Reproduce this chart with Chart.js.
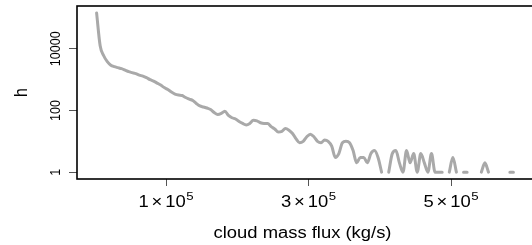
<!DOCTYPE html>
<html>
<head>
<meta charset="utf-8">
<script src="https://cdn.jsdelivr.net/npm/chart.js@4"></script>
<style>
  html, body { margin: 0; padding: 0; background: #fff; overflow: hidden; }
</style>
</head>
<body>
<canvas id="histChart" width="545" height="245"></canvas>
<script>
// bin centres of the cloud mass flux histogram (kg/s)
const massFlux = [
  2500, 7500, 12500, 17500, 22500, 27500, 32500, 37500, 42500, 47500,
  52500, 57500, 62500, 67500, 72500, 77500, 82500, 87500, 92500, 97500,
  102500, 107500, 112500, 117500, 122500, 127500, 132500, 137500, 142500, 147500,
  152500, 157500, 162500, 167500, 172500, 177500, 182500, 187500, 192500, 197500,
  202500, 207500, 212500, 217500, 222500, 227500, 232500, 237500, 242500, 247500,
  252500, 257500, 262500, 267500, 272500, 277500, 282500, 287500, 292500, 297500,
  302500, 307500, 312500, 317500, 322500, 327500, 332500, 337500, 342500, 347500,
  352500, 357500, 362500, 367500, 372500, 377500, 382500, 387500, 392500, 397500,
  402500, 407500, 412500, 417500, 422500, 427500, 432500, 437500, 442500, 447500,
  452500, 457500, 462500, 467500, 472500, 477500, 482500, 487500, 492500, 497500,
  502500, 507500, 512500, 517500, 522500, 527500, 532500, 537500, 542500, 547500,
  552500, 557500, 562500, 567500, 572500, 577500, 582500, 587500
];

// counts per bin (null = empty bin, not drawn on the log axis)
const counts = [
  145000, 12500, 5940, 3810, 2940, 2630, 2440, 2260, 2020, 1810,
  1680, 1560, 1400, 1300, 1160, 1000, 895, 771, 665, 552,
  476, 395, 341, 316, 305, 263, 235, 210, 168, 140,
  130, 120, 108, 86, 74, 80, 95, 69, 58, 53,
  44, 38, 34, 38, 48, 46, 40, 38, 38, 30,
  25, 20, 21, 26, 23, 18, 12, 9, 10, 14,
  17, 14, 10, 9, 11, 10, 7, 3, 4, 9,
  10, 9, 5, 2, 3, 3, 2, 4, 5, 3,
  1, null, 1, 4, 5, 2, 1, 5, 2, 4,
  1, 4, 2, 1, 4, 1, 1, 1, null, 1,
  3, 1, null, 1, 1, null, null, null, 1, 2,
  1, null, null, null, null, null, 1, 1
];

const xTicks = [100000, 300000, 500000];
const xTickMantissa = ['1', '3', '5'];
const xTickExponent = ['5', '5', '5'];
const yTicks = [1, 100, 10000];
const yTickLabels = ['1', '100', '10000'];
const xTitle = 'cloud mass flux (kg/s)';
const yTitle = 'h';

const FONT = '"Liberation Sans", Arial, sans-serif';
const STRETCH = 1.15;

const rAxes = {
  id: 'rAxes',
  afterDraw(chart) {
    const { ctx, chartArea: a, scales } = chart;
    ctx.save();
    // box
    ctx.strokeStyle = '#000';
    ctx.lineWidth = 1.6;
    ctx.strokeRect(a.left, a.top, a.right - a.left, a.bottom - a.top);

    ctx.fillStyle = '#000';
    // y tick labels, rotated
    ctx.font = '12.5px ' + FONT;
    ctx.textAlign = 'center';
    ctx.textBaseline = 'alphabetic';
    yTicks.forEach((v, i) => {
      const y = scales.y.getPixelForValue(v);
      ctx.save();
      ctx.translate(59.5, y);
      ctx.scale(STRETCH, 1);
      ctx.rotate(-Math.PI / 2);
      ctx.fillText(yTickLabels[i], 0, 0);
      ctx.restore();
    });

    // y title
    ctx.save();
    ctx.font = '16px ' + FONT;
    ctx.translate(26.5, (a.top + a.bottom) / 2);
    ctx.scale(STRETCH, 1);
    ctx.rotate(-Math.PI / 2);
    ctx.fillText(yTitle, 0, 0);
    ctx.restore();

    // x tick labels  m x 10^e
    xTicks.forEach((v, i) => {
      const x = scales.x.getPixelForValue(v);
      ctx.save();
      ctx.translate(x, 206.5);
      ctx.scale(STRETCH, 1);
      ctx.textAlign = 'left';
      ctx.font = '16px ' + FONT;
      const sp = 2.5;
      const wm = ctx.measureText(xTickMantissa[i]).width;
      const wx = ctx.measureText('\u00d7').width;
      const wt = ctx.measureText('10').width;
      ctx.font = '11.5px ' + FONT;
      const we = ctx.measureText(xTickExponent[i]).width;
      let cx = -(wm + sp + wx + sp + wt + 0.5 + we) / 2;
      ctx.font = '16px ' + FONT;
      ctx.fillText(xTickMantissa[i], cx, 0); cx += wm + sp;
      ctx.fillText('\u00d7', cx, 0); cx += wx + sp;
      ctx.fillText('10', cx, 0); cx += wt + 0.5;
      ctx.font = '11.5px ' + FONT;
      ctx.fillText(xTickExponent[i], cx, -6.5);
      ctx.restore();
    });

    // x title
    ctx.save();
    ctx.font = '16px ' + FONT;
    ctx.textAlign = 'center';
    ctx.translate(302.5, 238);
    ctx.scale(STRETCH, 1);
    ctx.fillText(xTitle, 0, 0);
    ctx.restore();

    ctx.restore();
  }
};

new Chart(document.getElementById('histChart').getContext('2d'), {
  type: 'line',
  data: {
    datasets: [{
      data: massFlux.map((x, i) => ({ x: x, y: counts[i] })),
      borderColor: '#a9a9a9',
      borderWidth: 3,
      borderCapStyle: 'round',
      borderJoinStyle: 'round',
      pointRadius: 0,
      cubicInterpolationMode: 'monotone',
      spanGaps: false,
      fill: false
    }]
  },
  options: {
    responsive: false,
    animation: false,
    layout: { padding: { top: 6, right: 7, left: 0, bottom: 0 } },
    plugins: { legend: { display: false }, tooltip: { enabled: false } },
    scales: {
      x: {
        type: 'linear',
        min: -25000,
        max: 622000,
        afterBuildTicks: scale => { scale.ticks = xTicks.map(v => ({ value: v })); },
        afterFit: scale => { scale.height = 66; },
        ticks: { display: false, autoSkip: false },
        grid: { display: true, drawOnChartArea: false, drawTicks: true, tickLength: 7, color: '#555', lineWidth: 1 },
        border: { display: false }
      },
      y: {
        type: 'logarithmic',
        min: 0.64,
        max: 243800,
        afterBuildTicks: scale => { scale.ticks = yTicks.map(v => ({ value: v })); },
        afterFit: scale => { scale.width = 77; },
        ticks: { display: false, autoSkip: false },
        grid: { display: true, drawOnChartArea: false, drawTicks: true, tickLength: 8, color: '#555', lineWidth: 1 },
        border: { display: false }
      }
    }
  },
  plugins: [rAxes]
});
</script>
</body>
</html>
